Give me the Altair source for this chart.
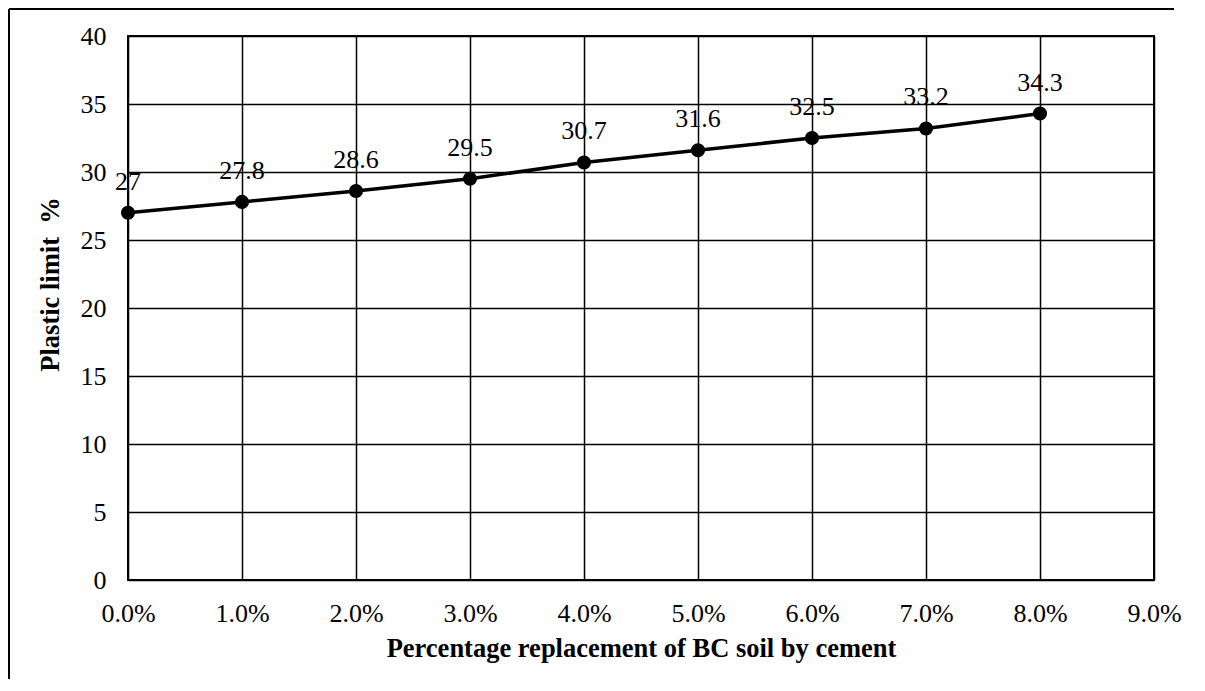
import altair as alt
import pandas as pd

replacement = [0.00, 0.01, 0.02, 0.03, 0.04, 0.05, 0.06, 0.07, 0.08]
plastic_limit = [27, 27.8, 28.6, 29.5, 30.7, 31.6, 32.5, 33.2, 34.3]
labels = ["27", "27.8", "28.6", "29.5", "30.7", "31.6", "32.5", "33.2", "34.3"]
x_ticks = [0.00, 0.01, 0.02, 0.03, 0.04, 0.05, 0.06, 0.07, 0.08, 0.09]
y_ticks = [0, 5, 10, 15, 20, 25, 30, 35, 40]

df = pd.DataFrame({"x": replacement, "y": plastic_limit, "label": labels})

FONT = "Liberation Serif"
W, H = 1026, 544
PAD_L, PAD_T, PAD_R, PAD_B = 120, 28, 43, 103

x_enc = alt.X(
    "x:Q",
    scale=alt.Scale(domain=[0, 0.09], nice=False, zero=False),
    axis=alt.Axis(
        values=x_ticks, format=".1%", title="Percentage replacement of BC soil by cement",
        grid=True, ticks=False, tickSize=0, domain=False, labelFlush=False,
        labelPadding=20, labelFontSize=26, labelFont=FONT, labelColor="black",
        titleFont=FONT, titleFontSize=26.5, titleFontWeight="bold", titleColor="black",
        titleBaseline="alphabetic", titleY=76, titleX=W / 2, titleAnchor="middle",
    ),
)
y_enc = alt.Y(
    "y:Q",
    scale=alt.Scale(domain=[0, 40], nice=False),
    axis=alt.Axis(
        values=y_ticks, title="Plastic limit\u00a0\u00a0%",
        grid=True, ticks=False, tickSize=0, domain=False,
        labelPadding=22, labelFontSize=26, labelFont=FONT, labelColor="black",
        titleFont=FONT, titleFontSize=26.5, titleFontWeight="bold", titleColor="black",
        titleBaseline="alphabetic", titleX=-70, titleY=248, titleAngle=-90,
    ),
)

base = alt.Chart(df)
line = base.mark_line(color="black", strokeWidth=3.5).encode(x=x_enc, y=y_enc)
points = base.mark_circle(color="black", opacity=1, size=200).encode(x="x:Q", y="y:Q")
text = base.mark_text(
    font=FONT, fontSize=26, color="black", baseline="alphabetic", align="center", dy=-23
).encode(x="x:Q", y="y:Q", text="label:N")

one = pd.DataFrame({"k": [0]})
border_left = alt.Chart(one).mark_rule(color="black", strokeWidth=2).encode(
    x=alt.value(-PAD_L + 1), y=alt.value(-PAD_T + 1), y2=alt.value(H + PAD_B - 4)
)
border_top = alt.Chart(one).mark_rule(color="black", strokeWidth=2).encode(
    x=alt.value(-PAD_L + 1), x2=alt.value(W + 20),
    y=alt.value(-PAD_T + 1), y2=alt.value(-PAD_T + 1)
)

chart = alt.layer(line, points, text, border_left, border_top).properties(
    width=W, height=H,
    autosize=alt.AutoSizeParams(type="none"),
    padding={"left": PAD_L, "top": PAD_T, "right": PAD_R, "bottom": PAD_B},
).configure_view(
    stroke="black", strokeWidth=2
).configure_axis(
    gridColor="black", gridWidth=1.5, gridOpacity=1
)

chart.save("out.html", embed_options={"renderer": "svg", "actions": False})
